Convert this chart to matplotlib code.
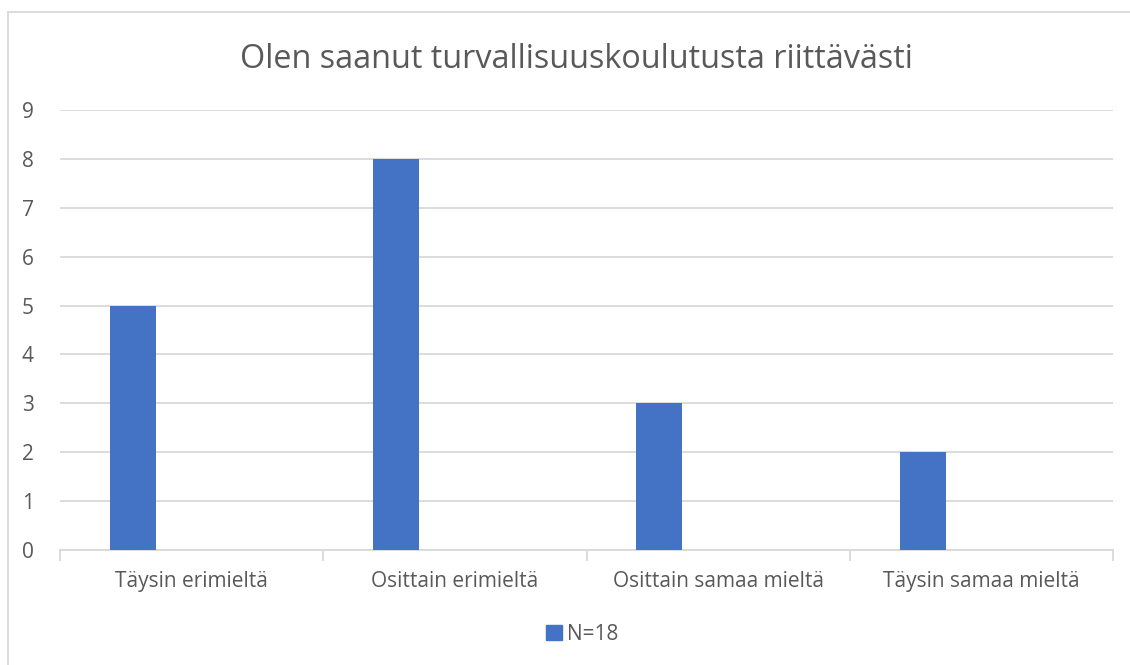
import matplotlib.pyplot as plt
from matplotlib.lines import Line2D
import numpy as np

categories = ['Täysin erimieltä', 'Osittain erimieltä', 'Osittain samaa mieltä', 'Täysin samaa mieltä']
values = [5, 8, 3, 2]
series_label = 'N=18'
title = 'Olen saanut turvallisuuskoulutusta riittävästi'

plt.rcParams['font.family'] = ['Open Sans', 'DejaVu Sans']
txt = '#595959'
grid = '#d9d9d9'
blue = '#4472c4'

fig = plt.figure(figsize=(11.3, 6.65), dpi=100)
ax = fig.add_axes([60/1130, 115/665, (1113-60)/1130, 440/665])

x = np.arange(len(categories))
ax.bar(x - 0.223, values, width=0.175, color=blue, zorder=3, label=series_label)

ax.set_xlim(-0.5, len(categories) - 0.5)
ax.set_ylim(0, 9)
ax.set_yticks(range(10))
ax.yaxis.grid(True, color=grid, linewidth=1.3, zorder=0)
ax.tick_params(axis='y', length=0, pad=19, labelsize=15, labelcolor=txt)

ax.set_xticks(x)
ax.set_xticklabels(categories)
ax.tick_params(axis='x', length=0, pad=15, labelsize=15, labelcolor=txt)
ax.set_xticks(np.arange(len(categories) + 1) - 0.5, minor=True)
ax.tick_params(axis='x', which='minor', length=8, color=grid, width=1.3)

for s in ['top', 'right', 'left']:
    ax.spines[s].set_visible(False)
ax.spines['bottom'].set_color(grid)
ax.spines['bottom'].set_linewidth(1.3)

fig.text(576/1130, 1 - 60/665, title, ha='center', va='center', fontsize=23.3, color=txt)

fig.legend(handles=[plt.Rectangle((0, 0), 1, 1, color=blue)], labels=[series_label],
           loc='center', bbox_to_anchor=(582/1130, 1 - 634/665), frameon=False,
           fontsize=15, labelcolor=txt, handlelength=0.75, handleheight=0.75, handletextpad=0.25)

# chart area border (left and top edges visible)
fig.add_artist(Line2D([8/1130, 8/1130], [0, 1 - 12/665], transform=fig.transFigure, color=grid, linewidth=1.3))
fig.add_artist(Line2D([8/1130, 1], [1 - 12/665, 1 - 12/665], transform=fig.transFigure, color=grid, linewidth=1.3))

fig.savefig('out.png', dpi=100, facecolor='white')
